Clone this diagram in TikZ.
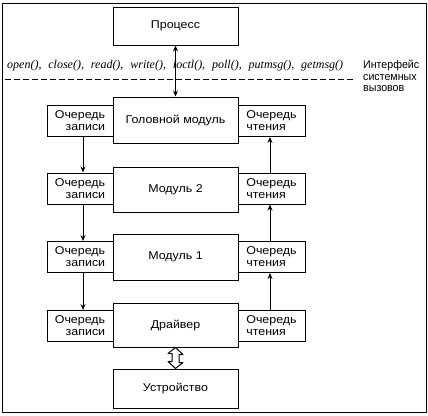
\documentclass[tikz,border=0pt]{standalone}
\usepackage{fontspec}
\setmainfont{Liberation Sans}[FakeStretch=1.1]
\newfontfamily\fnfont{Liberation Serif}
\newfontfamily\narrowfont{Liberation Sans}[FakeStretch=0.95]
\usetikzlibrary{arrows.meta}
\begin{document}
\begin{tikzpicture}[x=1pt,y=-1pt,
  box/.style={draw, line width=1pt, fill=white, inner sep=0pt, font=\fontsize{11.3}{12}\selectfont},
  mainbox/.style={box, minimum width=125pt, minimum height=45pt},
  lqbox/.style={box, minimum width=66pt, minimum height=31pt, align=right},
  rqbox/.style={box, minimum width=67pt, minimum height=31pt, align=left},
  arr/.style={-{Stealth[length=6pt,width=5pt]}, line width=0.9pt},
  darr/.style={{Stealth[length=6pt,width=5pt]}-{Stealth[length=6pt,width=5pt]}, line width=0.9pt},
  frame/.style={line width=1pt},
  hollow/.style={draw, line width=1pt, fill=white, line join=round},
  lbl/.style={inner sep=0pt, font=\narrowfont\fontsize{11.2}{11.6}\selectfont}]
\useasboundingbox (0,0) rectangle (428,415);
\draw[frame] (2,3) rectangle (426,412);

% queue boxes
\node[lqbox] (lq1) at (80,121) {Очередь\\записи};
\node[rqbox] (rq1) at (271.5,121) {Очередь\\чтения};
\node[lqbox] (lq2) at (80,188.5) {Очередь\\записи};
\node[rqbox] (rq2) at (271.5,188.5) {Очередь\\чтения};
\node[lqbox] (lq3) at (80,257) {Очередь\\записи};
\node[rqbox] (rq3) at (271.5,257) {Очередь\\чтения};
\node[lqbox] (lq4) at (80,326) {Очередь\\записи};
\node[rqbox] (rq4) at (271.5,326) {Очередь\\чтения};

% main boxes
\node[mainbox, minimum height=38pt] (proc) at (175.5,26) {Процесс};
\node[mainbox, minimum height=46pt] (m1) at (175.5,120) {Головной модуль};
\node[mainbox] (m2) at (175.5,189.5) {Модуль 2};
\node[mainbox, minimum height=46pt] (m3) at (175.5,257) {Модуль 1};
\node[mainbox, minimum height=44pt] (drv) at (175.5,325) {Драйвер};
\node[mainbox, minimum height=39pt] (dev) at (175.5,388.5) {Устройство};

% system call line
\node[anchor=west, inner sep=0pt, font=\fnfont\itshape\fontsize{12}{12}\selectfont] (calls) at (7,66)
  {\makebox[336pt][s]{open(),\hfill close(),\hfill read(),\hfill write(),\hfill ioctl(),\hfill poll(),\hfill putmsg(),\hfill getmsg()}};
\coordinate (dl) at (5,79);
\coordinate (dr) at (354,79);
\draw[line width=0.9pt, dash pattern=on 6pt off 3pt] (dl) -- (dr);
\node[lbl, anchor=north west, align=left] (iface) at (363,60) {Интерфейс\\системных\\вызовов};

% arrows
\draw[darr] (proc.south) -- (m1.north);
\draw[arr] ([xshift=3pt]lq1.south) -- ([xshift=3pt]lq2.north);
\draw[arr] ([xshift=3pt]lq2.south) -- ([xshift=3pt]lq3.north);
\draw[arr] ([xshift=3pt]lq3.south) -- ([xshift=3pt]lq4.north);
\draw[arr] ([xshift=-1.5pt]rq4.north) -- ([xshift=-1.5pt]rq3.south);
\draw[arr] ([xshift=-1.5pt]rq3.north) -- ([xshift=-1.5pt]rq2.south);
\draw[arr] ([xshift=-1.5pt]rq2.north) -- ([xshift=-1.5pt]rq1.south);

% hollow double arrow
\draw[hollow] (drv.south) -- ++(7.5,7) -- ++(-4,0) -- ++(0,8) -- ++(4,0) -- (dev.north)
  -- ++(-7.5,-7) -- ++(4,0) -- ++(0,-8) -- ++(-4,0) -- cycle;
\end{tikzpicture}
\end{document}
